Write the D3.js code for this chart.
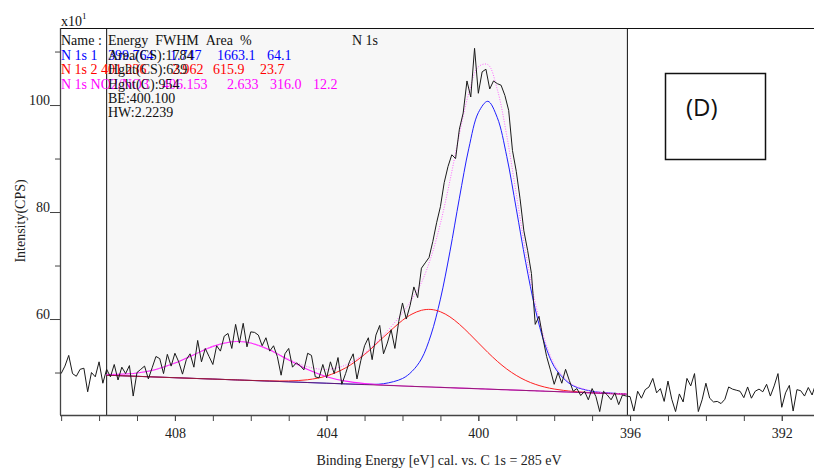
<!DOCTYPE html>
<html>
<head>
<meta charset="utf-8">
<script src="https://cdn.jsdelivr.net/npm/d3@7/dist/d3.min.js"></script>
<style>
body { margin: 0; background: #fff; }
svg { display: block; font-family: "Liberation Serif", "Times New Roman", serif; }
</style>
</head>
<body>
<svg width="814" height="469"></svg>
<script>
const width = 814;
const height = 469;

// 原始谱图：从 411.0 eV 开始，每 0.1 eV 一个点 (x10 CPS)
const rawStart = 411.0;
const rawStep = 0.1;
const rawCounts = [
    49.8, 51.2, 53.2, 49.8, 49.3, 50.6, 50.8, 46.4, 50.0, 49.2,
    52.0, 48.0, 50.6, 49.2, 51.5, 48.6, 51.0, 49.8, 51.3, 45.6,
    50.0, 50.6, 51.2, 48.8, 50.9, 53.0, 52.6, 49.8, 53.4, 51.2,
    53.6, 52.0, 49.7, 52.4, 53.5, 51.0, 56.0, 52.0, 54.5, 53.0,
    51.5, 55.0, 54.0, 56.8, 57.3, 54.5, 59.0, 55.5, 59.2, 54.8,
    57.6, 57.5, 57.0, 55.0, 56.5, 54.0, 55.0, 53.0, 49.5, 53.5,
    54.5, 51.0, 51.8, 51.3, 50.5, 53.6, 53.2, 49.2, 49.0, 51.5,
    49.0, 52.0, 49.8, 52.8, 47.8, 49.8, 52.0, 53.5, 48.8, 52.2,
    55.0, 56.5, 52.4, 57.0, 58.8, 53.5, 55.5, 58.0, 54.5, 59.5,
    63.0, 60.0, 62.5, 66.0, 64.0, 69.5, 70.5, 71.5, 74.5, 78.0,
    81.0, 85.5, 88.5, 90.7, 90.0, 95.5, 98.5, 104.5, 101.5, 110.6,
    102.2, 106.2, 106.7, 103.0, 104.5, 104.0, 103.7, 101.8, 99.0, 91.5,
    87.6, 82.5, 76.5, 72.8, 68.5, 59.0, 60.5, 56.5, 53.0, 50.5,
    47.8, 50.0, 48.0, 50.6, 48.5, 46.5, 47.0, 45.7, 46.5, 44.9,
    47.0, 45.5, 42.7, 46.5, 45.8, 44.9, 46.2, 44.0, 45.8, 45.6,
    45.5, 42.8, 46.5, 45.2, 46.8, 47.3, 48.9, 46.2, 47.0, 44.6,
    48.4, 45.0, 42.7, 46.0, 44.5, 48.9, 47.5, 49.8, 42.7, 44.9,
    48.0, 45.2, 44.5, 44.6, 44.2, 45.0, 47.3, 46.9, 46.7, 46.5,
    45.3, 47.3, 45.2, 46.5, 46.9, 46.4, 47.8, 45.6, 47.5, 49.8,
    43.5, 46.2, 47.6, 42.8, 46.8, 46.6, 45.6, 47.2, 45.8, 48.0
];

// 拟合曲线的能量点
const fitEnergy = [
    409.8, 409.5, 409.0, 408.5, 408.0, 407.5, 407.0, 406.5, 406.3, 406.0,
    405.5, 405.0, 404.5, 404.0, 403.5, 403.0, 402.5, 402.0, 401.75, 401.5,
    401.25, 401.0, 400.75, 400.5, 400.25, 400.0, 399.75, 399.5, 399.25, 399.0,
    398.75, 398.5, 398.25, 398.0, 397.75, 397.5, 397.0, 396.5, 396.1
];
// N 1s 1 (蓝)
const fitPeak1 = [
    49.50, 49.42, 49.29, 49.16, 49.03, 48.90, 48.78, 48.65, 48.60, 48.52,
    48.39, 48.26, 48.13, 48.00, 47.87, 47.79, 47.91, 48.88, 50.21, 52.54,
    57.01, 63.72, 72.56, 82.59, 91.93, 98.57, 100.70, 97.64, 90.37, 80.61,
    70.54, 61.88, 55.36, 51.10, 48.89, 47.52, 46.49, 46.16, 45.96
];
// N 1s 2 (红)
const fitPeak2 = [
    49.50, 49.42, 49.29, 49.16, 49.03, 48.90, 48.78, 48.65, 48.60, 48.53,
    48.44, 48.43, 48.65, 49.36, 50.87, 53.37, 56.62, 59.76, 60.92, 61.63,
    61.79, 61.36, 60.41, 59.02, 57.35, 55.55, 53.76, 52.10, 50.65, 49.46,
    48.51, 47.80, 47.28, 46.91, 46.66, 46.47, 46.23, 46.06, 45.96
];
// N 1s NO2/NO3 (品红)
const fitPeak3 = [
    49.62, 49.65, 49.91, 50.58, 51.76, 53.34, 54.89, 55.75, 55.80, 55.51,
    54.20, 52.34, 50.56, 49.22, 48.39, 47.93, 47.67, 47.49, 47.41, 47.35,
    47.29, 47.22, 47.16, 47.09, 47.03, 46.97, 46.90, 46.84, 46.77, 46.71,
    46.64, 46.58, 46.51, 46.45, 46.39, 46.32, 46.19, 46.06, 45.96
];
// 包络线 (点线)
const fitEnvelope = [
    49.62, 49.65, 49.91, 50.58, 51.76, 53.34, 54.89, 55.75, 55.80, 55.52,
    54.25, 52.51, 51.08, 50.58, 51.39, 53.61, 56.98, 61.17, 63.72, 66.82,
    71.51, 77.86, 85.81, 94.52, 102.25, 107.15, 107.56, 102.90, 94.25, 83.36,
    72.41, 63.10, 56.13, 51.56, 49.16, 47.67, 46.53, 46.16, 45.96
];

// 本底与拟合区域
const regionBounds = [409.8, 396.07];
const backgroundLevel = [49.5, 45.95];

// 坐标轴刻度
const xMajorTicks = [408, 404, 400, 396, 392];
const xMinorTicks = d3.range(392, 412);
const yMajorTicks = [60, 80, 100];
const yMinorTicks = [50, 70, 90, 110];

// 图例表
const peakNames = ["N 1s 1", "N 1s 2", "N 1s NO2/NO3"];
const peakEnergy = ["399.764", "401.236", "406.153"];
const peakFwhm = ["1.747", "2.962", "2.633"];
const peakArea = ["1663.1", "615.9", "316.0"];
const peakPercent = ["64.1", "23.7", "12.2"];
const peakColors = ["#0000ff", "#ff0000", "#ff00ff"];
const overlayNotes = ["Area(CS):1784", "Hght(CS):639", "Hght(C):954"];
const infoLines = ["BE:400.100", "HW:2.2239"];

const svg = d3.select("svg");

const x = d3.scaleLinear().domain([411.03, 391.15]).range([60, 814]);
const y = d3.scaleLinear().domain([42.06, 114.4]).range([415, 28]);

// 拟合区域灰色背景
svg.append("rect")
    .attr("x", x(regionBounds[0]))
    .attr("y", 28)
    .attr("width", x(regionBounds[1]) - x(regionBounds[0]))
    .attr("height", 415 - 28)
    .attr("fill", "#f7f7f7");

regionBounds.forEach(e => {
    svg.append("line")
        .attr("x1", x(e)).attr("x2", x(e))
        .attr("y1", 28).attr("y2", 415)
        .attr("stroke", "#111").attr("stroke-width", 1);
});

// 边框
svg.append("line").attr("x1", 60).attr("x2", width).attr("y1", 28.5).attr("y2", 28.5)
    .attr("stroke", "#111").attr("stroke-width", 1.2);
svg.append("line").attr("x1", 60.5).attr("x2", 60.5).attr("y1", 28).attr("y2", 415)
    .attr("stroke", "#444").attr("stroke-width", 1.3);
svg.append("line").attr("x1", 60).attr("x2", width).attr("y1", 415.5).attr("y2", 415.5)
    .attr("stroke", "#444").attr("stroke-width", 1.3);

// x 轴
const xMinor = svg.append("g").attr("transform", "translate(0,416)")
    .call(d3.axisBottom(x).tickValues(xMinorTicks).tickSize(5).tickFormat(""));
const xMajor = svg.append("g").attr("transform", "translate(0,416)")
    .call(d3.axisBottom(x).tickValues(xMajorTicks).tickSize(5).tickPadding(7).tickFormat(d3.format("d")));
[xMinor, xMajor].forEach(g => {
    g.select(".domain").remove();
    g.selectAll("line").attr("stroke", "#444");
});
xMajor.selectAll("text")
    .attr("font-family", "Liberation Serif, serif")
    .attr("font-size", 14)
    .attr("fill", "#222");

// y 轴
const yMinor = svg.append("g").attr("transform", "translate(60,0)")
    .call(d3.axisLeft(y).tickValues(yMinorTicks).tickSize(5).tickFormat(""));
const yMajor = svg.append("g").attr("transform", "translate(60,0)")
    .call(d3.axisLeft(y).tickValues(yMajorTicks).tickSize(10).tickPadding(0).tickFormat(d3.format("d")));
[yMinor, yMajor].forEach(g => {
    g.select(".domain").remove();
    g.selectAll("line").attr("stroke", "#444");
});
yMajor.selectAll("text")
    .attr("font-family", "Liberation Serif, serif")
    .attr("font-size", 14)
    .attr("fill", "#222")
    .attr("dy", "-0.5");

// 轴标题
svg.append("text")
    .attr("transform", "translate(25,221) rotate(-90)")
    .attr("text-anchor", "middle")
    .attr("font-size", 14)
    .attr("fill", "#222")
    .text("Intensity(CPS)");

svg.append("text")
    .attr("x", 439).attr("y", 465)
    .attr("text-anchor", "middle")
    .attr("font-size", 14)
    .attr("fill", "#222")
    .text("Binding Energy [eV] cal. vs. C 1s = 285 eV");

const mult = svg.append("text").attr("x", 61).attr("y", 26).attr("font-size", 14).attr("fill", "#111");
mult.append("tspan").text("x10");
mult.append("tspan").attr("font-size", 9).attr("dy", -7).text("1");

// 曲线
const fitLine = vals => d3.line()
    .x((d, i) => x(fitEnergy[i]))
    .y(d => y(d))
    .curve(d3.curveCatmullRom)(vals);

svg.append("path").attr("d", fitLine(fitPeak1))
    .attr("stroke", "#2020ff").attr("stroke-width", 1).attr("fill", "none");
svg.append("path").attr("d", fitLine(fitPeak2))
    .attr("stroke", "#ff2020").attr("stroke-width", 1).attr("fill", "none");
svg.append("path").attr("d", fitLine(fitPeak3))
    .attr("stroke", "#ff20ff").attr("stroke-width", 1.1).attr("fill", "none");

// 本底直线
svg.append("path")
    .attr("d", d3.line()([[x(regionBounds[0]), y(backgroundLevel[0])], [x(regionBounds[1]), y(backgroundLevel[1])]]))
    .attr("stroke", "#701848").attr("stroke-width", 1).attr("stroke-opacity", 0.75).attr("fill", "none");

svg.append("path").attr("d", fitLine(fitEnvelope))
    .attr("stroke", "#ff66ff").attr("stroke-width", 1)
    .attr("stroke-dasharray", "1,1.5").attr("fill", "none");

const raw = rawCounts.map((v, i) => [rawStart - i * rawStep, v]);
svg.append("path")
    .attr("d", d3.line().x(d => x(d[0])).y(d => y(d[1]))(raw))
    .attr("stroke", "#1a1a1a").attr("stroke-width", 1)
    .attr("stroke-linejoin", "round").attr("fill", "none");

// 图例表
const nb = s => s.replace(/ /g, "\u00a0");
const table = svg.append("g").attr("font-size", 14);
const rowY = [45, 59.5, 74, 88.5, 103, 117];

table.append("text").attr("x", 61).attr("y", rowY[0]).attr("fill", "#111").text(nb("Name :"));
table.append("text").attr("x", 108).attr("y", rowY[0]).attr("fill", "#111").text(nb("Energy  FWHM  Area  %"));
table.append("text").attr("x", 352).attr("y", rowY[0]).attr("fill", "#111").text(nb("N 1s"));

const colX = [
    [61, 108, 170, 217, 267],
    [61, 101, 172, 213, 260],
    [61, 162, 227, 270, 313]
];
peakNames.forEach((name, i) => {
    const vals = [name, peakEnergy[i], peakFwhm[i], peakArea[i], peakPercent[i]];
    vals.forEach((t, j) => {
        table.append("text")
            .attr("x", colX[i][j]).attr("y", rowY[i + 1])
            .attr("fill", peakColors[i]).text(nb(t));
    });
    table.append("text")
        .attr("x", 108).attr("y", rowY[i + 1])
        .attr("fill", "#111").text(overlayNotes[i]);
});
infoLines.forEach((t, i) => {
    table.append("text").attr("x", 108).attr("y", rowY[4 + i]).attr("fill", "#111").text(t);
});

// (D) 标注框
svg.append("rect")
    .attr("x", 665.5).attr("y", 73.5).attr("width", 100).attr("height", 86)
    .attr("fill", "#fff").attr("stroke", "#111").attr("stroke-width", 1.5);
svg.append("text")
    .attr("x", 686).attr("y", 116)
    .attr("font-family", "Open Sans, Noto Sans, sans-serif")
    .attr("font-size", 24)
    .attr("fill", "#111")
    .text("(D)");
</script>
</body>
</html>
